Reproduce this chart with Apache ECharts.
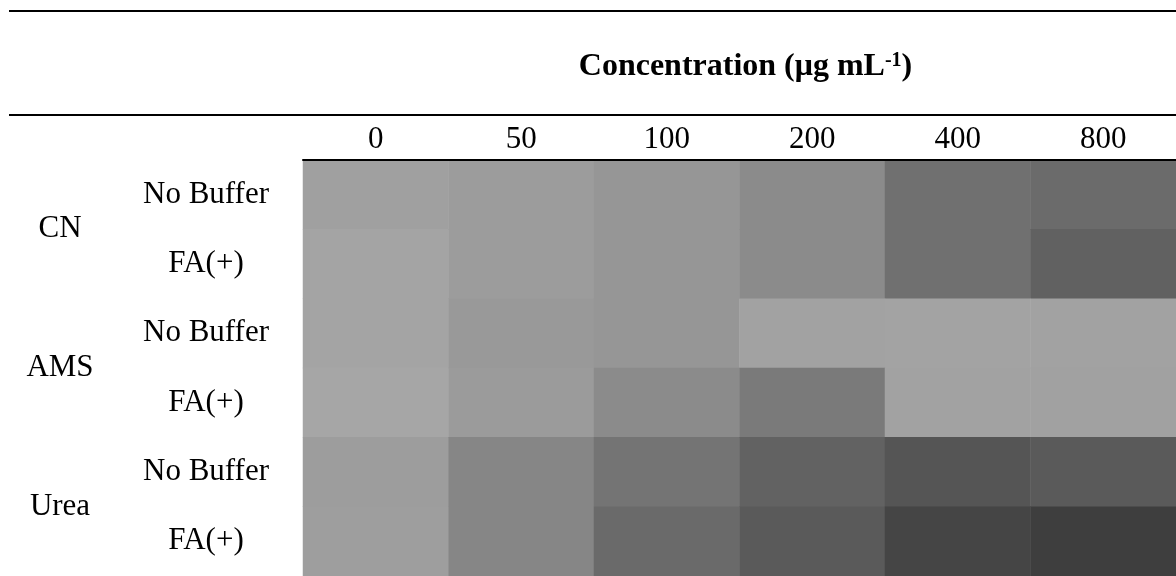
<!DOCTYPE html>
<html>
<head>
<meta charset="utf-8">
<script src="https://cdn.jsdelivr.net/npm/echarts@6/dist/echarts.min.js"></script>
<style>
html,body{margin:0;padding:0;background:#fff;}
#chart{width:1176px;height:576px;}
</style>
</head>
<body>
<div id="chart"></div>
<script>
// Column categories (concentration, µg/mL)
const concentrations = ['0', '50', '100', '200', '400', '800'];
// Group labels
const groups = ['CN', 'AMS', 'Urea'];
// Row labels (treatment within each group)
const treatments = ['No Buffer', 'FA(+)', 'No Buffer', 'FA(+)', 'No Buffer', 'FA(+)'];

// Cell grey level (0 = black, 255 = white)
const cnNoBuffer   = [160, 156, 150, 139, 112, 107];
const cnFA         = [164, 156, 150, 139, 112, 97];
const amsNoBuffer  = [164, 153, 150, 162, 163, 162];
const amsFA        = [166, 155, 139, 122, 162, 161];
const ureaNoBuffer = [157, 134, 116, 98, 85, 90];
const ureaFA       = [158, 134, 106, 90, 69, 62];

const rows = [cnNoBuffer, cnFA, amsNoBuffer, amsFA, ureaNoBuffer, ureaFA];
const heatData = [];
rows.forEach((r, yi) => r.forEach((v, xi) => heatData.push([xi, yi, v])));

const FONT = 'Liberation Serif';
const chart = echarts.init(document.getElementById('chart'), null, {renderer: 'canvas'});
chart.setOption({
  animation: false,
  backgroundColor: '#ffffff',
  grid: {left: 303, top: 160, width: 882, height: 420, containLabel: false},
  xAxis: {
    type: 'category',
    position: 'top',
    z: 5,
    data: concentrations,
    name: '{b|Concentration (μg mL}{s|-1}{b|)}',
    nameLocation: 'middle',
    nameGap: 93,
    nameTextStyle: {
      verticalAlign: 'middle',
      padding: [0, 0, 0, 12],
      rich: {
        b: {fontFamily: FONT, fontWeight: 'bold', fontSize: 32, color: '#000'},
        s: {fontFamily: FONT, fontWeight: 'bold', fontSize: 20, color: '#000', verticalAlign: 'top'}
      }
    },
    axisLine: {show: true, lineStyle: {color: '#000', width: 2}},
    axisTick: {show: false},
    splitLine: {show: false},
    axisLabel: {fontFamily: FONT, fontSize: 31, color: '#000', margin: 20, verticalAlign: 'middle'}
  },
  yAxis: [
    {
      type: 'category',
      position: 'left',
      inverse: true,
      data: treatments,
      axisLine: {show: false},
      axisTick: {show: false},
      splitLine: {show: false},
      axisLabel: {fontFamily: FONT, fontSize: 31, color: '#000', margin: 97, align: 'center'}
    },
    {
      type: 'category',
      position: 'left',
      inverse: true,
      data: groups,
      axisLine: {show: false},
      axisTick: {show: false},
      splitLine: {show: false},
      axisLabel: {fontFamily: FONT, fontSize: 31, color: '#000', margin: 243, align: 'center'}
    }
  ],
  visualMap: {
    type: 'continuous',
    show: false,
    min: 0,
    max: 255,
    dimension: 2,
    seriesIndex: 0,
    inRange: {color: ['#000000', '#ffffff']}
  },
  graphic: [
    {type: 'line', shape: {x1: 9, y1: 11, x2: 1176, y2: 11}, style: {stroke: '#000', lineWidth: 2}},
    {type: 'line', shape: {x1: 9, y1: 115, x2: 1176, y2: 115}, style: {stroke: '#000', lineWidth: 2}}
  ],
  series: [{
    type: 'heatmap',
    xAxisIndex: 0,
    yAxisIndex: 0,
    data: heatData,
    itemStyle: {borderWidth: 0},
    emphasis: {disabled: true}
  }]
});
</script>
</body>
</html>
